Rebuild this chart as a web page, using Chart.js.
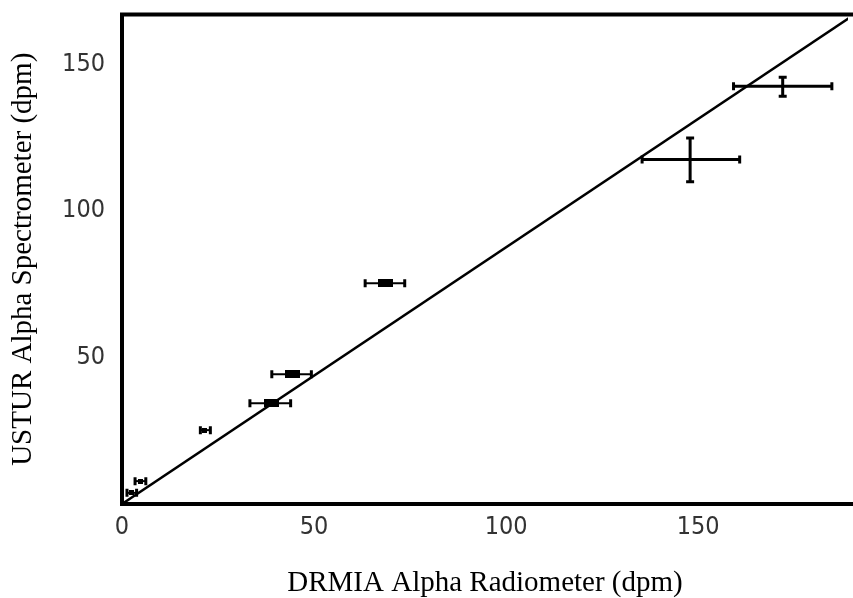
<!DOCTYPE html>
<html>
<head>
<meta charset="utf-8">
<script src="https://cdn.jsdelivr.net/npm/chart.js@4.4.1/dist/chart.umd.min.js"></script>
<style>
  html, body { margin: 0; padding: 0; background: #fff; overflow: hidden; }
</style>
</head>
<body>
<canvas id="chart" width="853" height="598"></canvas>
<script>
// DRMIA radiometer (x) vs USTUR spectrometer (y), with error ranges
const drmia     = [172.0, 147.9, 68.7, 44.4, 38.8, 21.4, 4.7, 2.6];
const drmiaLow  = [159.2, 135.4, 63.3, 39.0, 33.3, 20.4, 3.4, 1.3];
const drmiaHigh = [184.8, 160.8, 73.6, 49.3, 43.9, 23.0, 6.2, 3.8];
const ustur     = [142.5, 117.5, 75.3, 44.3, 34.4, 25.2, 7.8, 3.8];
const usturLow  = [139.1, 109.9, null, null, null, null, null, null];
const usturHigh = [145.6, 124.9, null, null, null, null, null, null];
const markerKind = ['none', 'none', 'box', 'box', 'box', 'dot', 'dot', 'dot'];

// fitted line
const fitX = [0, 190];
const fitY = [0, 166.4];

const xTicks = [0, 50, 100, 150];
const yTicks = [50, 100, 150];

function block(w, h) {
  const c = document.createElement('canvas');
  c.width = w;
  c.height = h;
  const g = c.getContext('2d');
  g.fillStyle = '#000';
  g.fillRect(0, 0, w, h);
  return c;
}

const errorBars = {
  id: 'errorBars',
  afterDatasetsDraw(chart) {
    const { ctx, scales: { x, y } } = chart;
    ctx.save();
    ctx.strokeStyle = '#000';
    drmia.forEach((v, i) => {
      const py = y.getPixelForValue(ustur[i]);
      const x0 = x.getPixelForValue(drmiaLow[i]);
      const x1 = x.getPixelForValue(drmiaHigh[i]);
      const big = drmiaHigh[i] - drmiaLow[i] > 15;
      ctx.lineWidth = big ? 3 : 2;
      ctx.beginPath();
      ctx.moveTo(x0, py);
      ctx.lineTo(x1, py);
      ctx.stroke();
      ctx.lineWidth = 3;
      ctx.beginPath();
      ctx.moveTo(x0, py - 4); ctx.lineTo(x0, py + 4);
      ctx.moveTo(x1, py - 4); ctx.lineTo(x1, py + 4);
      ctx.stroke();
      if (usturLow[i] != null) {
        const px = x.getPixelForValue(v);
        const y0 = y.getPixelForValue(usturLow[i]);
        const y1 = y.getPixelForValue(usturHigh[i]);
        ctx.lineWidth = 3;
        ctx.beginPath();
        ctx.moveTo(px, y0); ctx.lineTo(px, y1);
        ctx.moveTo(px - 4, y0); ctx.lineTo(px + 4, y0);
        ctx.moveTo(px - 4, y1); ctx.lineTo(px + 4, y1);
        ctx.stroke();
      }
    });
    ctx.restore();
  }
};

// left, top and bottom sides of the plot frame
const frame = {
  id: 'frame',
  afterDraw(chart) {
    const { ctx, chartArea: a } = chart;
    ctx.save();
    ctx.strokeStyle = '#000';
    ctx.lineWidth = 4;
    ctx.lineCap = 'square';
    ctx.beginPath();
    ctx.moveTo(chart.width + 5, a.top);
    ctx.lineTo(a.left, a.top);
    ctx.lineTo(a.left, a.bottom);
    ctx.lineTo(chart.width + 5, a.bottom);
    ctx.stroke();
    ctx.restore();
  }
};

const tickFont = { family: "'Liberation Sans Narrow', 'DejaVu Sans Condensed', Arial, sans-serif", size: 25, lineHeight: 1 };
const titleFont = { family: "'Liberation Serif', 'Times New Roman', serif", size: 29, lineHeight: 1 };

const ctx = document.getElementById('chart').getContext('2d');
new Chart(ctx, {
  type: 'scatter',
  data: {
    datasets: [
      {
        data: drmia.map((v, i) => ({ x: v, y: ustur[i] })),
        pointStyle: markerKind.map(k => k === 'box' ? block(15, 8) : k === 'dot' ? block(5, 5) : 'circle'),
        pointRadius: markerKind.map(k => k === 'none' ? 0 : 3),
        backgroundColor: '#000',
        borderColor: '#000'
      },
      {
        data: fitX.map((v, i) => ({ x: v, y: fitY[i] })),
        showLine: true,
        pointRadius: 0,
        borderColor: '#000',
        borderWidth: 2.5
      }
    ]
  },
  options: {
    responsive: false,
    animation: false,
    events: [],
    layout: { padding: { top: 14.5, right: 0, bottom: 0, left: 0 } },
    plugins: { legend: { display: false }, tooltip: { enabled: false } },
    scales: {
      x: {
        type: 'linear',
        min: 0,
        max: 189,
        grid: { display: false, drawTicks: false },
        border: { display: false },
        afterBuildTicks: s => { s.ticks = xTicks.map(v => ({ value: v })); },
        afterFit: s => { s.height = 94; s.paddingLeft = 0; s.paddingRight = 0; },
        ticks: { font: tickFont, color: '#333', padding: 11, maxRotation: 0 },
        title: {
          display: true,
          text: 'DRMIA Alpha Radiometer (dpm)',
          font: titleFont,
          color: '#000',
          padding: { top: 0, bottom: 0 }
        }
      },
      y: {
        type: 'linear',
        min: 0,
        max: 167,
        grid: { display: false, drawTicks: false },
        border: { display: false },
        afterBuildTicks: s => { s.ticks = yTicks.map(v => ({ value: v })); },
        afterFit: s => { s.width = 122; s.paddingTop = 0; s.paddingBottom = 0; },
        ticks: { font: tickFont, color: '#333', padding: 17 },
        title: {
          display: true,
          text: 'USTUR Alpha Spectrometer (dpm)',
          font: titleFont,
          color: '#000',
          padding: { top: 9, bottom: 0 }
        }
      }
    }
  },
  plugins: [errorBars, frame]
});
</script>
</body>
</html>
